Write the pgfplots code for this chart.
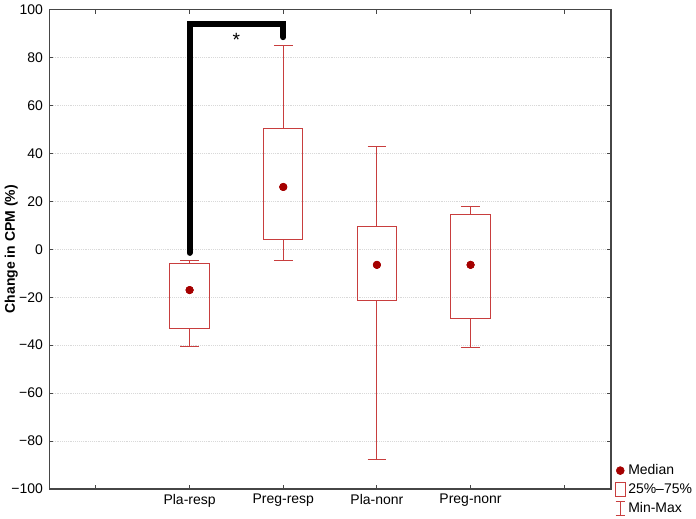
\documentclass[border=0pt]{standalone}
\usepackage{fontspec}
\setmainfont{Liberation Sans}
\usepackage{pgfplots}
\pgfplotsset{compat=1.18}
\usepgfplotslibrary{statistics}
\definecolor{boxred}{RGB}{200,62,62}
\definecolor{medred}{RGB}{165,0,0}
\definecolor{axgray}{RGB}{70,70,70}
\begin{document}
\fontsize{10.5}{12.6}\selectfont
\begin{tikzpicture}
\begin{axis}[
    scale only axis,
    width=422pt,
    height=360pt,
    xmin=-0.5, xmax=5.5,
    ymin=-100, ymax=100,
    xtick={0,1,2,3,4,5},
    xticklabels={,Pla-resp,Preg-resp,Pla-nonr,Preg-nonr,},
    ytick={-100,-80,-60,-40,-20,0,20,40,60,80,100},
    yticklabels={−100,−80,−60,−40,−20,0,20,40,60,80,100},
    tick align=inside,
    major tick length=3pt,
    ymajorgrids,
    grid style={densely dotted, gray!30},
    axis line style={axgray, line width=0.9pt},
    tick style={axgray, line width=0.7pt},
    ylabel={\bfseries Change in CPM (\%)},
    ylabel style={yshift=-12pt},
    yticklabel style={xshift=-1pt},
    boxplot/draw direction=y,
    boxplot/every median/.style={draw=none},
    legend style={draw=none, fill=none, at={(rel axis cs:1,0.06)}, anchor=north west,
        xshift=2pt, row sep=1.2pt, inner sep=1pt},
    legend cell align=left,
]
% medians
\addplot[only marks, mark=*, mark size=2.8pt, medred,
    legend image code/.code={\fill[medred] (0.12cm,0cm) circle (3pt);}]
coordinates {(1,-17) (2,26) (3,-6.5) (4,-6.5)};
\addlegendentry{Median}
\addlegendimage{legend image code/.code={\draw[boxred, line width=0.6pt] (0cm,-0.19cm) rectangle (0.25cm,0.19cm);}}
\addlegendentry{25\%–75\%}
\addlegendimage{legend image code/.code={\draw[boxred, line width=0.6pt] (0cm,-0.19cm) -- (0.25cm,-0.19cm) (0cm,0.19cm) -- (0.25cm,0.19cm) (0.125cm,-0.19cm) -- (0.125cm,0.19cm);}}
\addlegendentry{Min-Max}

\addplot[boxred, line width=0.7pt, forget plot, boxplot prepared={
    lower whisker=-40.5, lower quartile=-33, median=-17,
    upper quartile=-5.8, upper whisker=-4.5,
    draw position=1, box extend=0.42, whisker extend=0.2}] coordinates {};
\addplot[boxred, line width=0.7pt, forget plot, boxplot prepared={
    lower whisker=-4.5, lower quartile=4, median=26,
    upper quartile=50.5, upper whisker=85,
    draw position=2, box extend=0.42, whisker extend=0.2}] coordinates {};
\addplot[boxred, line width=0.7pt, forget plot, boxplot prepared={
    lower whisker=-87.5, lower quartile=-21.5, median=-6.5,
    upper quartile=9.5, upper whisker=43,
    draw position=3, box extend=0.42, whisker extend=0.2}] coordinates {};
\addplot[boxred, line width=0.7pt, forget plot, boxplot prepared={
    lower whisker=-41, lower quartile=-29, median=-6.5,
    upper quartile=14.5, upper whisker=17.8,
    draw position=4, box extend=0.42, whisker extend=0.2}] coordinates {};
\addplot[medred, only marks, mark=*, mark size=2.8pt, forget plot]
coordinates {(1,-17) (2,26) (3,-6.5) (4,-6.5)};

% significance bracket
\addplot[black, line width=4.5pt, line cap=round, line join=miter, forget plot]
coordinates {(1,-1.5) (1,93.8) (2,93.8) (2,88.5)};
\node at (axis cs:1.5,87.5) {\Large *};
\end{axis}
\end{tikzpicture}
\end{document}
